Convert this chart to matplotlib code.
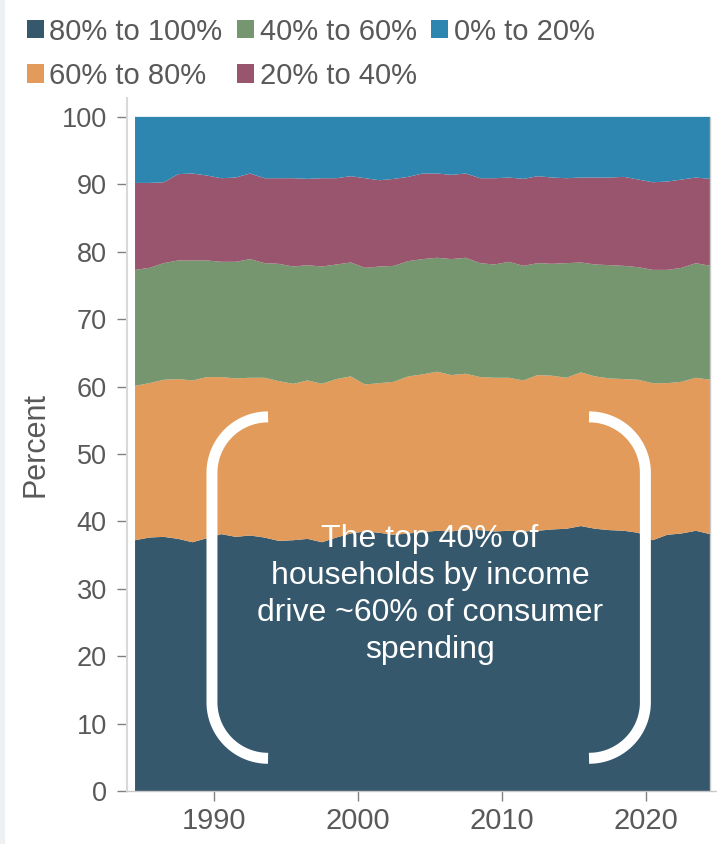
import numpy as np
import matplotlib
matplotlib.use('Agg')
import matplotlib.pyplot as plt
from matplotlib.patches import Rectangle

plt.rcParams['font.family'] = ['Liberation Sans', 'DejaVu Sans']

# share of consumer spending by income quintile, percent
years = list(range(1984, 2025))
q80_100 = [37.2, 37.6, 37.7, 37.4, 36.9, 37.5, 38.1, 37.7, 37.9, 37.6,
           37.1, 37.2, 37.4, 36.9, 37.6, 38.2, 38.5, 38.3, 38.0, 38.2,
           38.4, 38.6, 38.5, 38.8, 38.7, 38.5, 38.6, 38.5, 38.6, 38.8,
           38.9, 39.3, 38.9, 38.7, 38.6, 38.3, 37.2, 38.0, 38.2, 38.6, 38.1]
q60_80 = [22.9, 22.9, 23.3, 23.7, 24.0, 23.9, 23.3, 23.5, 23.4, 23.7,
          23.7, 23.2, 23.5, 23.5, 23.5, 23.3, 21.8, 22.2, 22.7, 23.3,
          23.4, 23.6, 23.2, 23.1, 22.7, 22.8, 22.7, 22.4, 23.1, 22.8,
          22.4, 22.8, 22.6, 22.5, 22.5, 22.7, 23.3, 22.5, 22.5, 22.7, 22.9]
q40_60 = [17.2, 17.1, 17.3, 17.6, 17.8, 17.3, 17.1, 17.3, 17.6, 17.0,
          17.4, 17.4, 17.1, 17.4, 17.0, 16.9, 17.3, 17.3, 17.2, 17.1,
          17.1, 16.9, 17.2, 17.2, 16.9, 16.8, 17.2, 17.0, 16.6, 16.6,
          17.0, 16.3, 16.6, 16.8, 16.8, 16.7, 16.8, 16.8, 16.9, 17.0, 16.9]
q20_40 = [12.9, 12.6, 12.0, 12.8, 12.9, 12.6, 12.4, 12.5, 12.7, 12.6,
          12.7, 13.1, 12.8, 13.1, 12.8, 12.8, 13.3, 12.8, 12.9, 12.5,
          12.7, 12.5, 12.5, 12.5, 12.6, 12.8, 12.5, 12.9, 12.9, 12.8,
          12.6, 12.6, 12.9, 13.0, 13.2, 13.0, 13.0, 13.1, 13.1, 12.7, 12.9]
q0_20 = [9.8, 9.8, 9.7, 8.5, 8.4, 8.7, 9.1, 9.0, 8.4, 9.1,
         9.1, 9.1, 9.2, 9.1, 9.1, 8.8, 9.1, 9.4, 9.2, 8.9,
         8.4, 8.4, 8.6, 8.4, 9.1, 9.1, 9.0, 9.2, 8.8, 9.0,
         9.1, 9.0, 9.0, 9.0, 8.9, 9.3, 9.7, 9.6, 9.3, 9.0, 9.2]

labels = ['80% to 100%', '60% to 80%', '40% to 60%', '20% to 40%', '0% to 20%']
colors = ['#36586c', '#e29b5a', '#75966f', '#99556d', '#2d86b0']

note = 'The top 40% of\nhouseholds by income\ndrive ~60% of consumer\nspending'

grey_text = '#595959'

# annual values sit at mid-year
x = np.array(years) + 0.5

fig = plt.figure(figsize=(7.17, 8.44), dpi=100)
fig.add_artist(Rectangle((0, 0), 4 / 717, 1, transform=fig.transFigure,
                         color='#eef1f4', zorder=0))
ax = fig.add_axes([0.1771, 0.0628, 0.8229, 0.8211])

polys = ax.stackplot(x, q80_100, q60_80, q40_60, q20_40, q0_20,
                     colors=colors, labels=labels, linewidth=0)
ax.vlines(x[-1], 0, 100, color='#c8c8c8', lw=1)

ax.set_xlim(1983.94, 2024.97)
ax.set_ylim(0, 102.8)
ax.set_xticks([1990, 2000, 2010, 2020])
ax.set_yticks(range(0, 101, 10))

for s in ['top', 'right']:
    ax.spines[s].set_visible(False)
ax.spines['left'].set_color('#d9d9d9')
ax.spines['left'].set_linewidth(1.5)
ax.spines['bottom'].set_color('#c8c8c8')
ax.spines['bottom'].set_linewidth(1)

ax.tick_params(axis='both', colors='#808080', labelcolor=grey_text,
               length=7.5, width=1)
ax.tick_params(axis='y', pad=7, labelsize=19.5)
ax.tick_params(axis='x', pad=4, labelsize=21)
ax.set_ylabel('Percent', fontsize=22, color=grey_text, labelpad=8)


def bracket(x_tip, x_bar, y_top, y_bot, ry):
    # rounded bracket: tip -> quarter arc -> vertical bar -> quarter arc -> tip
    t = np.linspace(0, np.pi / 2, 40)
    rx = abs(x_tip - x_bar)
    sx = np.sign(x_tip - x_bar)
    top_x = x_tip - sx * rx * np.sin(t)
    top_y = y_top - ry + ry * np.cos(t)
    bot_x = x_bar + sx * rx * (1 - np.cos(t))
    bot_y = y_bot + ry - ry * np.sin(t)
    ax.plot(np.concatenate([top_x, bot_x]), np.concatenate([top_y, bot_y]),
            color='white', lw=7.9, solid_capstyle='butt',
            solid_joinstyle='round')


bracket(1993.75, 1989.85, 55.5, 4.85, 8.3)
bracket(2016.07, 2019.99, 55.5, 4.85, 8.3)

ax.text(2005, 29.2, note, ha='center', va='center', color='white',
        fontsize=23, linespacing=1.3)

ax.legend(ncol=3, loc='upper left', bbox_to_anchor=(26.6 / 717, 0.979),
          bbox_transform=fig.transFigure, frameon=False, fontsize=21,
          labelcolor=grey_text, handlelength=0.58, handleheight=0.58,
          handletextpad=0.2, columnspacing=0.5, labelspacing=0.55,
          borderpad=0, borderaxespad=0)

fig.savefig('out.png', dpi=100)
